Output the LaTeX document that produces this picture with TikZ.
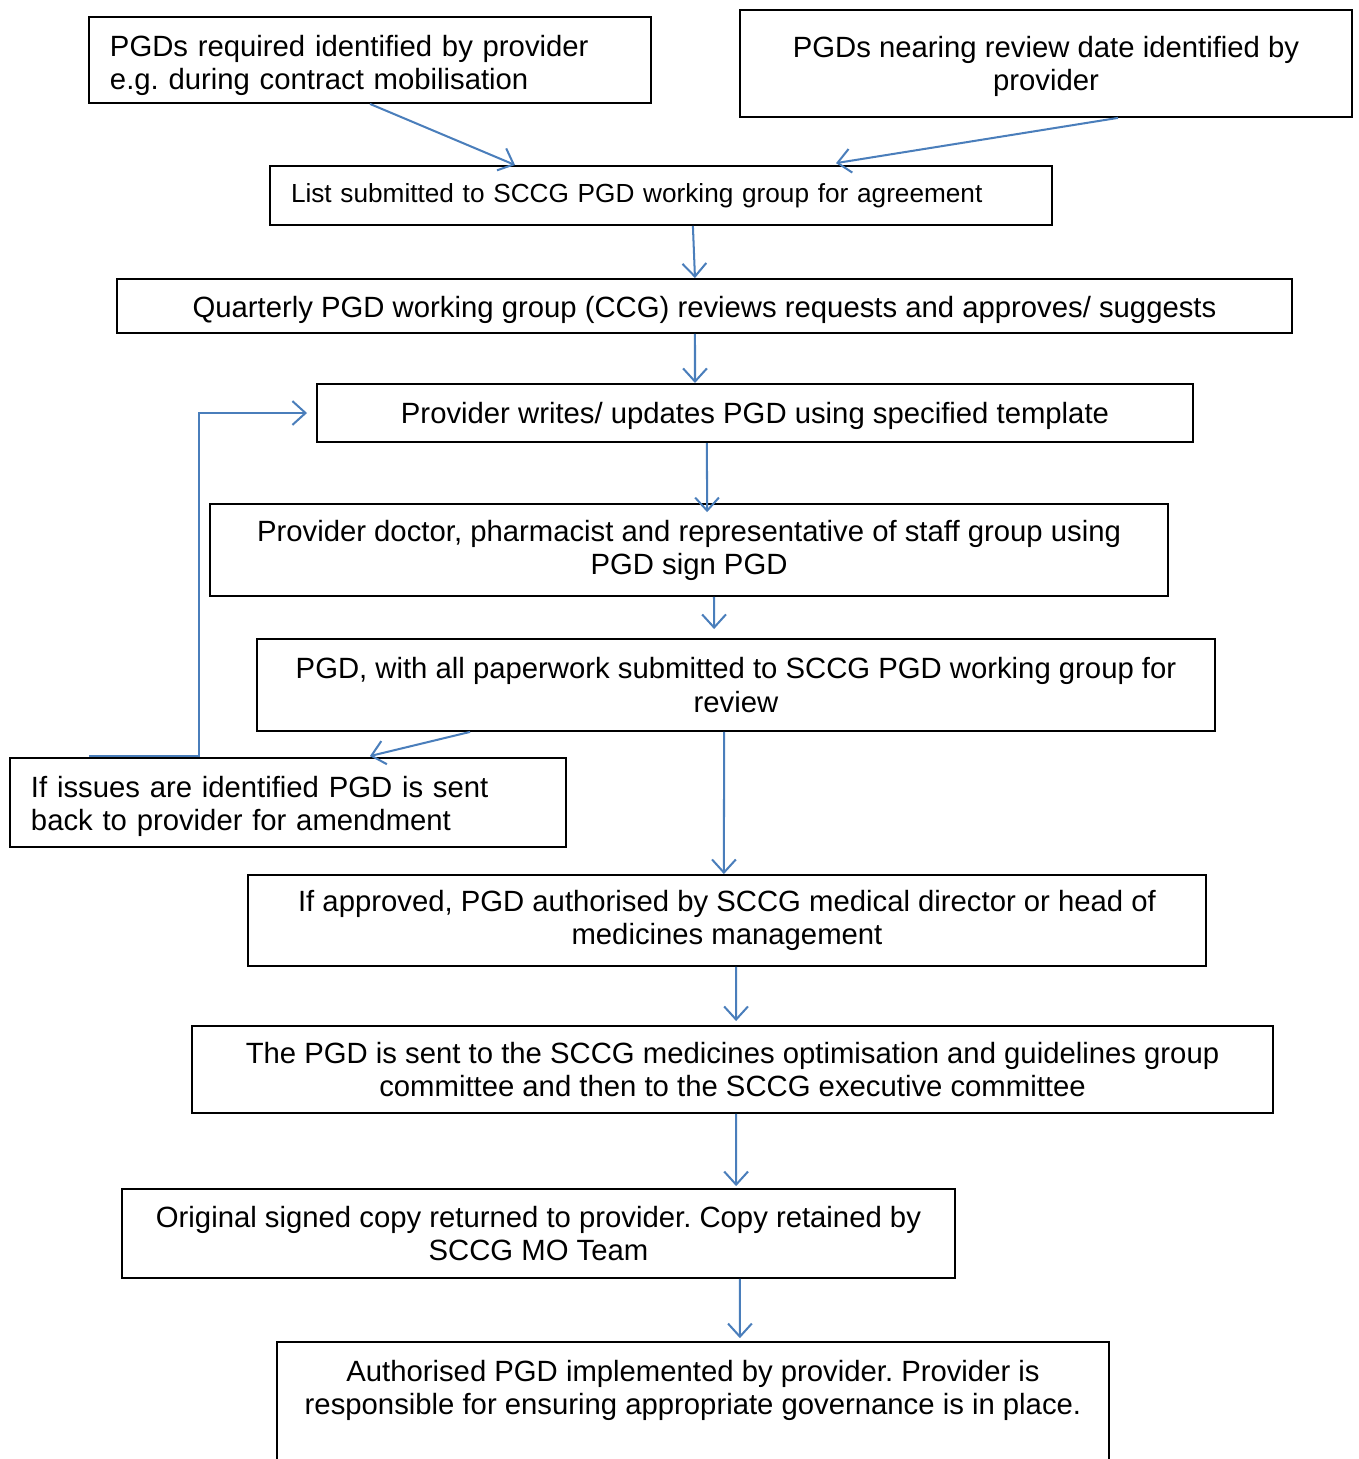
\documentclass[tikz,border=0pt]{standalone}
\usepackage{fontspec}
\setmainfont{Liberation Sans}
\usepackage{tikz}
\usetikzlibrary{arrows.meta}
\definecolor{arrowblue}{HTML}{4A7EBB}
\frenchspacing

\begin{document}
\begin{tikzpicture}[x=0.42pt,y=-0.42pt,line width=0.8pt,
	box/.style={draw,rectangle,inner sep=0pt,align=center,font=\fontsize{12.3}{13.9}\selectfont},
	lbox/.style={box,align=left,inner xsep=8.8pt},
	textdrop/.style 2 args={text height=#1,text depth=#2},
	link/.style={draw=arrowblue,line width=0.85pt,-{Straight Barb[length=5.5pt,width=10pt]}}]
	\clip (0,0) rectangle (1358,1459);
	\node[lbox,text width=218.4pt,minimum height=36.1pt,textdrop={13.2pt}{16.5pt}] (req) at (370,60)
		{PGDs required identified by provider\\e.g. during contract mobilisation};
	\node[box,minimum width=257pt,minimum height=44.9pt,textdrop={25.6pt}{2.6pt}] (rev) at (1046,63.5)
		{PGDs nearing review date identified by\\provider};
	\node[lbox,text width=310.8pt,minimum height=24.8pt,font=\fontsize{11}{12.5}\selectfont] (list) at (661,195.5)
		{List submitted to SCCG PGD working group for agreement};
	\node[box,minimum width=493.5pt,minimum height=22.7pt,textdrop={12.4pt}{2.6pt}] (quart) at (704.5,306)
		{Quarterly PGD working group (CCG) reviews requests and approves/ suggests};
	\node[box,minimum width=367.9pt,minimum height=24.4pt,textdrop={11.6pt}{2.6pt}] (write) at (755,413)
		{Provider writes/ updates PGD using specified template};
	\node[box,minimum width=402.4pt,minimum height=38.6pt] (sign) at (689,550)
		{Provider doctor, pharmacist and representative of staff group using\\PGD sign PGD};
	\node[box,minimum width=402.4pt,minimum height=38.6pt] (subm) at (736,685)
		{PGD, with all paperwork submitted to SCCG PGD working group for\\review};
	\node[lbox,text width=215.9pt,minimum height=37.4pt,textdrop={12pt}{16.5pt}] (issue) at (288,802.5)
		{If issues are identified PGD is sent\\back to provider for amendment};
	\node[box,minimum width=402.4pt,minimum height=38.2pt] (auth) at (727,920.5)
		{If approved, PGD authorised by SCCG medical director or head of\\medicines management};
	\node[box,minimum width=454pt,minimum height=36.5pt] (exec) at (732.5,1069.5)
		{The PGD is sent to the SCCG medicines optimisation and guidelines group\\committee and then to the SCCG executive committee};
	\node[box,minimum width=349.9pt,minimum height=37.4pt] (orig) at (538.5,1233.5)
		{Original signed copy returned to provider. Copy retained by\\SCCG MO Team};
	\node[box,minimum width=349.4pt,minimum height=66pt,anchor=north] (impl) at (693,1341)
		{Authorised PGD implemented by provider. Provider is\\responsible for ensuring appropriate governance is in place.\\\mbox{}\\\mbox{}};

	\draw[link] (req.south) -- ([xshift=103.3pt]list.north west);
	\draw[link] ([xshift=30.2pt]rev.south) -- ([xshift=73.5pt,yshift=0.8pt]list.north);
	\draw[link] ([xshift=13.4pt]list.south) -- ([xshift=-4pt]quart.north);
	\draw[link] ([xshift=-4pt]quart.south) -- ([xshift=-25.2pt]write.north);
	\draw[link] ([xshift=-20.2pt]write.south) -- ([xshift=7.6pt,yshift=-3.8pt]sign.north);
	\draw[link] ([xshift=10.5pt]sign.south) -- ([xshift=-9.2pt,yshift=3.8pt]subm.north);
	\draw[link] ([xshift=-5pt]subm.south) -- ([xshift=-1.3pt]auth.north);
	\draw[link] ([xshift=-111.7pt]subm.south) -- ([xshift=34.4pt,yshift=0.4pt]issue.north);
	\draw[link] ([xshift=-83.6pt,yshift=0.4pt]issue.north) -- ++(46.2pt,0) |- ([xshift=-3.8pt]write.west);
	\draw[link] ([xshift=3.8pt]auth.south) -- ([xshift=1.5pt,yshift=1.7pt]exec.north);
	\draw[link] ([xshift=1.5pt]exec.south) -- ([xshift=83pt,yshift=0.8pt]orig.north);
	\draw[link] ([xshift=84.6pt]orig.south) -- ([xshift=19.7pt,yshift=1.2pt]impl.north);
\end{tikzpicture}
\end{document}
